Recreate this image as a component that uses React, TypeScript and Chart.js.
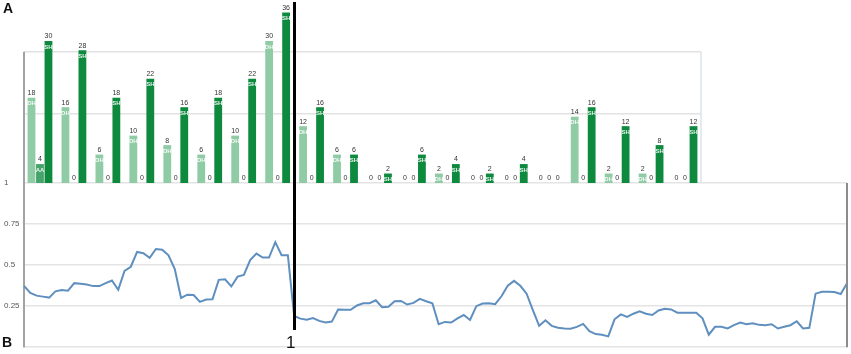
import React, { useEffect, useRef } from "react";
import { Chart, registerables } from "chart.js";

Chart.register(...registerables);

// ---- Panel A data (grouped bars) ----
const groupLabels = ["1","2","3","4","5","6","7","8","9","10","11","12","13","14","15","16","17","18","19","20"];
const dhValues = [18, 16, 6, 10, 8, 6, 10, 30, 12, 6, 0, 0, 2, 0, 0, 0, 14, 2, 2, 0];
const aaValues = [4, 0, 0, 0, 0, 0, 0, 0, 0, 0, 0, 0, 0, 0, 0, 0, 0, 0, 0, 0];
const shValues = [30, 28, 18, 22, 16, 18, 22, 36, 16, 6, 2, 6, 4, 2, 4, 0, 16, 12, 8, 12];
const barTags = ["DH", "AA", "SH"];
const barGridValues = [14.6, 27.7];
const barMax = 38;

// ---- Panel B data (line) ----
const similarity = [
  0.374, 0.33, 0.314, 0.308, 0.302, 0.34, 0.348, 0.344, 0.39, 0.386,
  0.382, 0.372, 0.372, 0.39, 0.406, 0.35, 0.464, 0.49, 0.58, 0.572,
  0.544, 0.598, 0.594, 0.56, 0.476, 0.3, 0.32, 0.318, 0.276, 0.29,
  0.292, 0.41, 0.414, 0.37, 0.43, 0.44, 0.53, 0.57, 0.546, 0.546,
  0.64, 0.56, 0.56, 0.19, 0.174, 0.168, 0.178, 0.16, 0.15, 0.156,
  0.23, 0.228, 0.228, 0.254, 0.268, 0.268, 0.286, 0.244, 0.246, 0.28,
  0.282, 0.26, 0.27, 0.294, 0.28, 0.268, 0.14, 0.154, 0.15, 0.176,
  0.196, 0.166, 0.25, 0.266, 0.268, 0.262, 0.31, 0.374, 0.404, 0.374,
  0.326, 0.226, 0.13, 0.164, 0.13, 0.118, 0.114, 0.112, 0.124, 0.142,
  0.098, 0.08, 0.076, 0.066, 0.17, 0.2, 0.184, 0.204, 0.218, 0.204,
  0.196, 0.224, 0.234, 0.23, 0.21, 0.21, 0.21, 0.21, 0.176, 0.076,
  0.124, 0.124, 0.114, 0.134, 0.15, 0.14, 0.146, 0.136, 0.134, 0.14,
  0.114, 0.124, 0.134, 0.158, 0.114, 0.118, 0.326, 0.338, 0.338, 0.336,
  0.324, 0.39,
];
const positions = similarity.map((_, i) => String(i + 1));
const lineTickValues = [0, 0.25, 0.5, 0.75, 1];

const FONT = "Arial, 'Liberation Sans', sans-serif";
const W = 851;
const H = 354;

const barDecorPlugin = {
  id: "barDecor",
  beforeDatasetsDraw(chart: any) {
    const { ctx, chartArea, scales } = chart;
    const y = scales.y;
    const yTop = y.getPixelForValue(barGridValues[1]);
    const yMid = y.getPixelForValue(barGridValues[0]);
    const y0 = y.getPixelForValue(0);
    const left = 24;
    const right = chartArea.right - 1;
    ctx.save();
    ctx.strokeStyle = "#e2e2e2";
    ctx.lineWidth = 1.5;
    ctx.beginPath();
    ctx.moveTo(left, yTop);
    ctx.lineTo(right, yTop);
    ctx.moveTo(left, yMid);
    ctx.lineTo(right, yMid);
    ctx.stroke();
    ctx.strokeStyle = "#dce3ec";
    ctx.beginPath();
    ctx.moveTo(right, yTop);
    ctx.lineTo(right, y0);
    ctx.stroke();
    ctx.strokeStyle = "#a3a3a3";
    ctx.lineWidth = 2;
    ctx.beginPath();
    ctx.moveTo(left, yTop);
    ctx.lineTo(left, y0);
    ctx.stroke();
    ctx.restore();
  },
  afterDatasetsDraw(chart: any) {
    const { ctx } = chart;
    ctx.save();
    chart.data.datasets.forEach((ds: any, di: number) => {
      const meta = chart.getDatasetMeta(di);
      meta.data.forEach((el: any, i: number) => {
        const v = ds.data[i];
        ctx.font = `7px ${FONT}`;
        ctx.textAlign = "center";
        ctx.textBaseline = "bottom";
        ctx.fillStyle = "#333";
        ctx.fillText(String(v), el.x, el.y - 1);
        if (v > 0) {
          ctx.textBaseline = "top";
          ctx.fillStyle = "rgba(255,255,255,0.9)";
          ctx.font = `bold 6px ${FONT}`;
          ctx.fillText(barTags[di], el.x, el.y + 3);
        }
      });
    });
    ctx.restore();
  },
};

const lineDecorPlugin = {
  id: "lineDecor",
  afterDraw(chart: any) {
    const { ctx, chartArea } = chart;
    ctx.save();
    ctx.strokeStyle = "#8c8c8c";
    ctx.lineWidth = 2;
    ctx.beginPath();
    ctx.moveTo(chartArea.right, chartArea.top);
    ctx.lineTo(chartArea.right, chartArea.bottom);
    ctx.stroke();
    ctx.restore();
  },
};

export default function App() {
  const barRef = useRef<HTMLCanvasElement | null>(null);
  const lineRef = useRef<HTMLCanvasElement | null>(null);

  useEffect(() => {
    const lineChart = new Chart(lineRef.current as HTMLCanvasElement, {
      type: "line",
      data: {
        labels: positions,
        datasets: [
          {
            data: similarity,
            borderColor: "#5f8fbf",
            borderWidth: 2,
            pointRadius: 0,
            tension: 0,
            fill: false,
          },
        ],
      },
      options: {
        responsive: false,
        animation: false,
        devicePixelRatio: 1,
        layout: { padding: { left: 4, right: 4, top: 183, bottom: 4 } },
        plugins: { legend: { display: false }, tooltip: { enabled: false } },
        scales: {
          x: { display: false, offset: false },
          y: {
            min: 0,
            max: 1,
            afterBuildTicks: (scale: any) => {
              scale.ticks = lineTickValues.map((v) => ({ value: v }));
            },
            afterFit: (scale: any) => {
              scale.width = 20;
            },
            grid: { color: "#e4e4e4", lineWidth: 1.5, drawTicks: false },
            border: { color: "#a3a3a3", width: 2 },
            ticks: {
              crossAlign: "far",
              padding: 2,
              color: "#555",
              font: { size: 8, family: FONT },
              callback: (v: any) => (Number(v) === 0 ? "" : String(v)),
            },
          },
        },
      } as any,
      plugins: [lineDecorPlugin],
    });

    const barChart = new Chart(barRef.current as HTMLCanvasElement, {
      type: "bar",
      data: {
        labels: groupLabels,
        datasets: [
          { data: dhValues, backgroundColor: "#8fcca5" },
          { data: aaValues, backgroundColor: "#45a36b" },
          { data: shValues, backgroundColor: "#0e8a3f" },
        ],
      },
      options: {
        responsive: false,
        animation: false,
        devicePixelRatio: 1,
        layout: { padding: { left: 23, right: 149, top: 3, bottom: 171 } },
        plugins: { legend: { display: false }, tooltip: { enabled: false } },
        datasets: { bar: { categoryPercentage: 0.75, barPercentage: 0.92 } },
        scales: {
          x: { display: false },
          y: { display: false, min: 0, max: barMax },
        },
      } as any,
      plugins: [barDecorPlugin],
    });

    return () => {
      barChart.destroy();
      lineChart.destroy();
    };
  }, []);

  const abs: React.CSSProperties = { position: "absolute", left: 0, top: 0 };

  return (
    <div
      style={{
        position: "fixed",
        left: 0,
        top: 0,
        width: W,
        height: H,
        background: "#fff",
        overflow: "hidden",
        fontFamily: FONT,
      }}
    >
      <canvas ref={lineRef} width={W} height={H} style={{ ...abs, width: W, height: H }} />
      <canvas ref={barRef} width={W} height={H} style={{ ...abs, width: W, height: H }} />
      <div
        style={{
          position: "absolute",
          left: 293,
          top: 2,
          width: 2.5,
          height: 328,
          background: "#000",
        }}
      />
      <div style={{ position: "absolute", left: 3, top: 1, fontSize: 14, lineHeight: "14px", fontWeight: "bold", color: "#111" }}>A</div>
      <div style={{ position: "absolute", left: 2, top: 335, fontSize: 14, lineHeight: "14px", fontWeight: "bold", color: "#111" }}>B</div>
      <div style={{ position: "absolute", left: 286, top: 334, fontSize: 17, lineHeight: "17px", color: "#111" }}>1</div>
    </div>
  );
}
